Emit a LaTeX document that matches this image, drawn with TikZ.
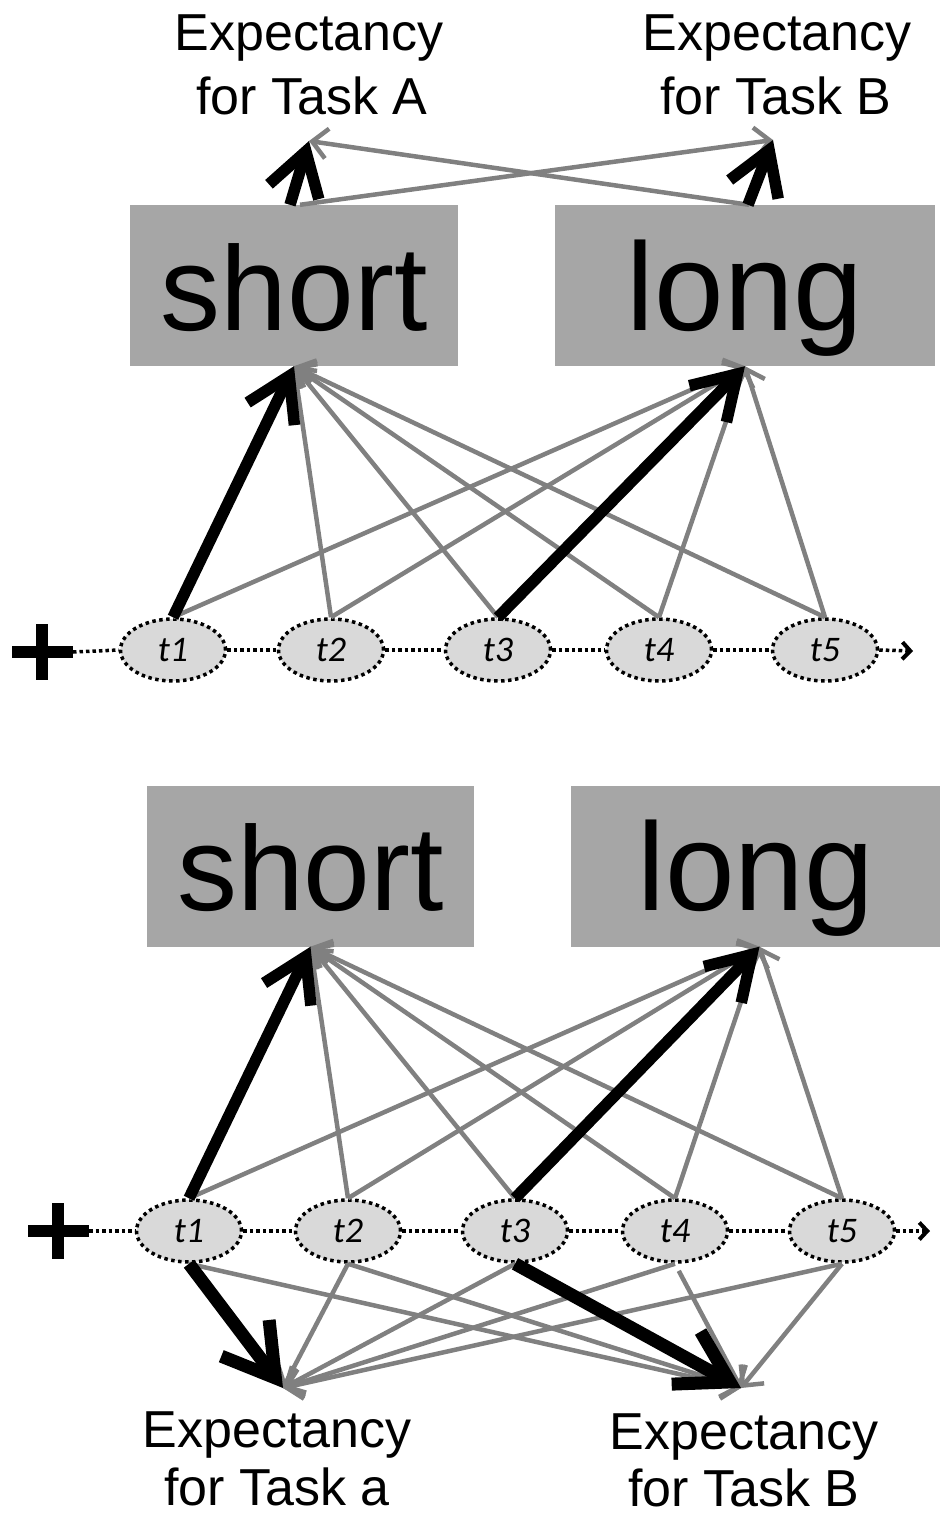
\documentclass[tikz,border=0pt]{standalone}
\usepackage{fontspec}
\setmainfont{Liberation Sans}
\newfontfamily\tfont{Carlito}
\usetikzlibrary{arrows.meta,shapes.geometric}
\definecolor{gr}{HTML}{808080}
\definecolor{boxgr}{HTML}{A6A6A6}
\definecolor{ellgr}{HTML}{D9D9D9}
\begin{document}
\begin{tikzpicture}[x=1pt,y=-1pt,
  box/.style={rectangle, fill=boxgr, inner sep=0pt, minimum height=161pt,
    text height=120pt, text depth=31pt, font=\fontsize{120}{130}\selectfont},
  bigl/.style={box, font=\fontsize{125}{130}\selectfont},
  ell/.style={ellipse, fill=ellgr, draw=black, line width=3.5pt,
    dash pattern=on 3.5pt off 3.5pt, minimum width=105pt, minimum height=62pt,
    inner sep=0pt, font=\fontsize{36}{38}\selectfont\tfont\itshape},
  lab/.style={anchor=base, inner sep=0pt, font=\fontsize{52}{60}\selectfont},
  gl/.style={draw=gr, line width=4.5pt, -{Straight Barb[length=15pt,width=30pt]}},
  bk/.style={draw=black, line width=11.5pt, -{Straight Barb[length=42pt,width=52pt]}},
  bkd/.style={draw=black, line width=13pt, -{Straight Barb[length=50pt,width=60pt]}},
  dotl/.style={draw=black, line width=3.5pt, dash pattern=on 3.5pt off 3pt},
  plus/.style={draw=black, line width=12pt},
  chev/.style={dotl, -{Straight Barb[length=8pt,width=17pt,line width=4pt]}}
]
\useasboundingbox (0,0) rectangle (941,1517);

% ---------------- top panel ----------------
\node[lab] (ta1) at (309,51) {Expectancy};
\node[lab] (ta2) at (312,115) {for Task A};
\node[lab] (tb1) at (777,51) {Expectancy};
\node[lab] (tb2) at (776,115) {for Task B};
\coordinate (eA) at (309,141);
\coordinate (eB) at (773,140);

\node[box, minimum width=328pt] (s1) at (294,285.5) {short};
\node[bigl, minimum width=380pt] (l1) at (745,285.5) {long};

\coordinate (pl1) at (42,652);
\draw[plus] ([xshift=-30pt]pl1) -- ([xshift=31pt]pl1);
\draw[plus] ([yshift=28pt]pl1) -- ([yshift=-28pt]pl1);

\node[ell] (a1) at (173,650) {t1};
\node[ell] (a2) at (331,650) {t2};
\node[ell] (a3) at (498,650) {t3};
\node[ell] (a4) at (659,650) {t4};
\node[ell] (a5) at (825,650) {t5};
\coordinate (end1) at (913,651);

\draw[dotl] ([xshift=31pt]pl1) -- (a1.west);
\draw[dotl] (a1.east) -- (a2.west);
\draw[dotl] (a2.east) -- (a3.west);
\draw[dotl] (a3.east) -- (a4.west);
\draw[dotl] (a4.east) -- (a5.west);
\draw[chev] (a5.east) -- (end1);

\draw[gl] ([xshift=6pt]s1.north) -- (eB);
\draw[gl] ([xshift=4pt]l1.north) -- (eA);
\draw[bk] ([xshift=-4pt]s1.north) -- (eA);
\draw[bk] ([xshift=3pt]l1.north) -- (eB);

\draw[gl] (a1.north) -- (l1.south);
\draw[gl] (a2.north) -- (s1.south);
\draw[gl] (a2.north) -- (l1.south);
\draw[gl] (a3.north) -- (s1.south);
\draw[gl] (a4.north) -- (s1.south);
\draw[gl] (a4.north) -- (l1.south);
\draw[gl] (a5.north) -- (s1.south);
\draw[gl] (a5.north) -- (l1.south);
\draw[bk] (a1.north) -- (s1.south);
\draw[bk] (a3.north) -- (l1.south);

% ---------------- bottom panel ----------------
\node[box, minimum width=327pt] (s2) at (310.5,866) {short};
\node[bigl, minimum width=369pt] (l2) at (755.5,866) {long};

\coordinate (pl2) at (58,1231);
\draw[plus] ([xshift=-30pt]pl2) -- ([xshift=31pt]pl2);
\draw[plus] ([yshift=28pt]pl2) -- ([yshift=-28pt]pl2);

\node[ell] (b1) at (189,1231) {t1};
\node[ell] (b2) at (348,1231) {t2};
\node[ell] (b3) at (515,1231) {t3};
\node[ell] (b4) at (675,1231) {t4};
\node[ell] (b5) at (842,1231) {t5};
\coordinate (end2) at (930,1231);

\draw[dotl] ([xshift=31pt]pl2) -- (b1.west);
\draw[dotl] (b1.east) -- (b2.west);
\draw[dotl] (b2.east) -- (b3.west);
\draw[dotl] (b3.east) -- (b4.west);
\draw[dotl] (b4.east) -- (b5.west);
\draw[chev] (b5.east) -- (end2);

\coordinate (ea) at (283,1388);
\coordinate (eb) at (741,1388);

\draw[gl] (b1.north) -- ([xshift=4pt]l2.south);
\draw[gl] (b2.north) -- (s2.south);
\draw[gl] (b2.north) -- ([xshift=4pt]l2.south);
\draw[gl] (b3.north) -- (s2.south);
\draw[gl] (b4.north) -- (s2.south);
\draw[gl] (b4.north) -- ([xshift=4pt]l2.south);
\draw[gl] (b5.north) -- (s2.south);
\draw[gl] (b5.north) -- ([xshift=4pt]l2.south);
\draw[bk] (b1.north) -- (s2.south);
\draw[bk] (b3.north) -- ([xshift=4pt]l2.south);

\draw[gl] (b1.south) -- (eb);
\draw[gl] (b2.south) -- (ea);
\draw[gl] (b2.south) -- (eb);
\draw[gl] (b3.south) -- (ea);
\draw[gl] (b4.south) -- (ea);
\draw[gl, shorten <=8pt] (b4.south) -- (eb);
\draw[gl] (b5.south) -- (ea);
\draw[gl] (b5.south) -- (eb);
\draw[bkd] (b1.south) -- (ea);
\draw[bkd] (b3.south) -- (eb);

\node[lab] (ba1) at (277,1447) {Expectancy};
\node[lab] (ba2) at (277,1505) {for Task a};
\node[lab] (bb1) at (744,1449) {Expectancy};
\node[lab] (bb2) at (744,1506) {for Task B};
\end{tikzpicture}
\end{document}
